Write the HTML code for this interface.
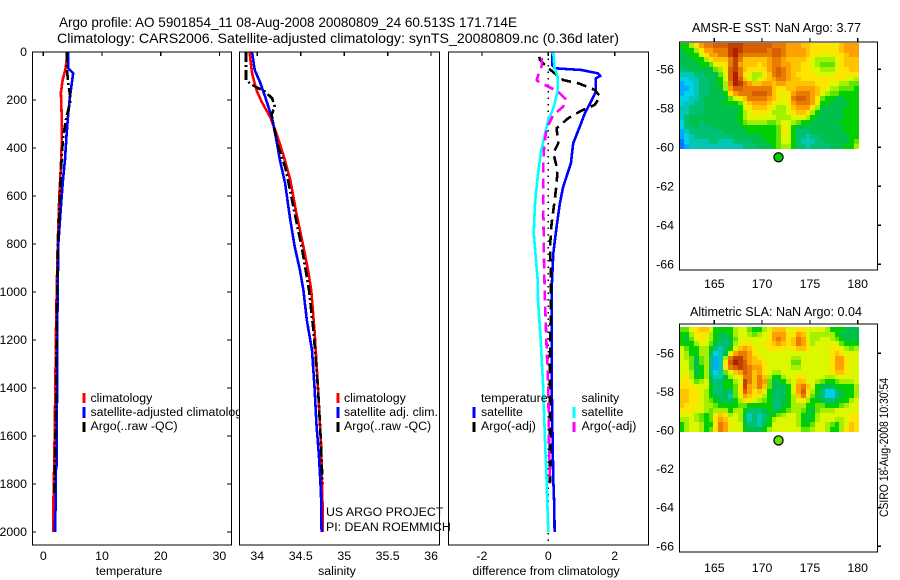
<!DOCTYPE html>
<html lang="en">
<head>
<meta charset="utf-8">
<title>Argo profile chart</title>
<style>
html,body{margin:0;padding:0;background:#fff;}
svg{display:block;}
text{font-family:"Liberation Sans",Arial,sans-serif;fill:#000;font-size:12.35px;}
.ttl{font-size:14px;}
.mttl{font-size:13px;}
.axis{fill:none;stroke:#000;stroke-width:1.3;shape-rendering:crispEdges;}
.lg{stroke-width:3;shape-rendering:crispEdges;}
</style>
</head>
<body>
<svg id="fig" width="900" height="580" viewBox="0 0 900 580" xmlns="http://www.w3.org/2000/svg">
  <defs><clipPath id="clipLeg"><rect x="0" y="380" width="240" height="60"/></clipPath></defs>
  <rect x="0" y="0" width="900" height="580" fill="#fff"/>
  <text class="ttl" x="59" y="27" textLength="458" lengthAdjust="spacingAndGlyphs">Argo profile: AO 5901854_11 08-Aug-2008 20080809_24 60.513S 171.714E</text>
  <text class="ttl" x="57" y="43" textLength="562" lengthAdjust="spacingAndGlyphs">Climatology: CARS2006. Satellite-adjusted climatology: synTS_20080809.nc (0.36d later)</text>

  <g id="marks"></g>

  <rect class="axis" x="32.5" y="52" width="199" height="493"/>
  <rect class="axis" x="239.5" y="52" width="200" height="493"/>
  <rect class="axis" x="448.5" y="52" width="200" height="493"/>
  <rect class="axis" x="679.5" y="42" width="198" height="228"/>
  <rect class="axis" x="679.5" y="324" width="198" height="228"/>

  <g id="ticks"></g>

  <text x="129" y="575" text-anchor="middle">temperature</text>
  <text x="337" y="575" text-anchor="middle">salinity</text>
  <text x="546" y="575" text-anchor="middle">difference from climatology</text>

  <g>
    <line class="lg" x1="84" y1="393" x2="84" y2="403" stroke="#f00"/>
    <text x="90.5" y="402">climatology</text>
    <line class="lg" x1="84" y1="407" x2="84" y2="418" stroke="#00f"/>
    <text x="90.5" y="416" clip-path="url(#clipLeg)">satellite-adjusted climatology</text>
    <line class="lg" x1="84" y1="422" x2="84" y2="432" stroke="#000"/>
    <text x="90.5" y="430">Argo(..raw -QC)</text>
  </g>
  <g>
    <line class="lg" x1="338" y1="393" x2="338" y2="403" stroke="#f00"/>
    <text x="344" y="402">climatology</text>
    <line class="lg" x1="338" y1="407" x2="338" y2="418" stroke="#00f"/>
    <text x="344" y="416">satellite adj. clim.</text>
    <line class="lg" x1="338" y1="422" x2="338" y2="432" stroke="#000"/>
    <text x="344" y="430">Argo(..raw -QC)</text>
  </g>
  <text x="326" y="516">US ARGO PROJECT</text>
  <text x="326" y="531">PI: DEAN ROEMMICH</text>
  <g>
    <text x="481" y="402">temperature</text>
    <line class="lg" x1="474" y1="407" x2="474" y2="418" stroke="#00f"/>
    <text x="481" y="416">satellite</text>
    <line class="lg" x1="474" y1="422" x2="474" y2="432" stroke="#000"/>
    <text x="481" y="430">Argo(-adj)</text>
    <text x="581.5" y="402">salinity</text>
    <line class="lg" x1="574" y1="407" x2="574" y2="418" stroke="#0ff"/>
    <text x="581.5" y="416">satellite</text>
    <line class="lg" x1="574" y1="422" x2="574" y2="432" stroke="#f0f"/>
    <text x="581.5" y="430">Argo(-adj)</text>
  </g>

  <text class="mttl" x="692" y="32" textLength="169" lengthAdjust="spacingAndGlyphs">AMSR-E SST: NaN Argo: 3.77</text>
  <text class="mttl" x="690" y="316" textLength="172" lengthAdjust="spacingAndGlyphs">Altimetric SLA: NaN Argo: 0.04</text>
  <text transform="translate(888,517) rotate(-90)" textLength="139" lengthAdjust="spacingAndGlyphs">CSIRO 18-Aug-2008 10:30:54</text>
</svg>

<script>
// ---------- profile data ----------
const tempClimDepth = [0,74,115,170,268,380,476,600,800,1100,1400,1700,1900,2000];
const tempClimValue = [4.2,3.75,3.3,3.0,3.13,3.13,3.0,2.73,2.45,2.2,2.05,1.88,1.7,1.7];
const tempSatDepth = [0,68,88,185,254,337,448,518,600,800,1100,1400,1500,1720,1750,1900,1950,2000];
const tempSatValue = [4.26,4.26,5.1,4.55,4.26,3.98,3.7,3.41,3.13,2.55,2.4,2.4,2.28,2.28,2.1,2.1,2.0,2.0];
const tempArgoDepth = [0,70,130,200,280,350,400,500,600,800,1100,1500,1700,1850];
const tempArgoValue = [4.0,4.0,4.26,4.67,3.87,3.41,3.24,3.0,2.85,2.5,2.3,2.16,2.0,1.88];

const salClimDepth = [0,89,158,207,272,339,429,533,672,811,922,992,1172,1408,1631,1880,2000];
const salClimValue = [33.91,33.94,33.99,34.05,34.15,34.22,34.3,34.38,34.45,34.53,34.59,34.62,34.66,34.7,34.733,34.75,34.75];
const salSatDepth = [0,75,124,186,276,367,450,547,700,811,908,992,1117,1242,1408,1547,1686,1839,2000];
const salSatValue = [33.94,33.97,34.03,34.09,34.17,34.22,34.26,34.32,34.38,34.43,34.49,34.53,34.57,34.63,34.66,34.68,34.71,34.733,34.74];
const salArgoDepth = [0,117,137,165,193,228,262,318,394,478,547,672,811,936,992,1158,1408,1631,1797];
const salArgoValue = [33.87,33.87,33.94,34.09,34.17,34.2,34.165,34.195,34.24,34.32,34.36,34.43,34.51,34.57,34.595,34.645,34.7,34.733,34.75];

const diffTempSatDepth = [0,54,68,75,89,100,110,165,200,256,311,380,464,498,561,630,728,839,992,1339,1547,1783,1894,2000];
const diffTempSatValue = [0.13,0.12,0.2,1.0,1.5,1.56,1.43,1.43,1.31,1.1,0.95,0.75,0.68,0.6,0.45,0.35,0.25,0.15,0.1,0.1,0.12,0.15,0.18,0.19];
const diffTempArgoDepth = [20,33,68,89,117,130,158,186,220,244,276,318,380,422,492,561,630,714,811,922,1019,1269,1478,1797];
const diffTempArgoValue = [-0.27,-0.25,0,0.2,0.45,0.9,1.4,1.56,1.4,1.0,0.6,0.25,0.3,0.15,0.28,0.24,0.18,0.1,0.05,0.08,0.08,0.05,0.05,0.05];
const diffSalSatDepth = [0,61,103,165,235,283,353,422,533,630,755,853,950,1033,1200,1408,1617,1783,2000];
const diffSalSatValue = [0.15,0.18,0.28,0.28,0.15,0,-0.12,-0.23,-0.33,-0.4,-0.44,-0.38,-0.32,-0.31,-0.23,-0.15,-0.1,-0.05,0];
const diffSalArgoDepth = [26,58,82,117,128,144,165,197,228,262,318,387,450,617,811,922,1033,1228,1408,1617,1797];
const diffSalArgoValue = [-0.2,-0.2,-0.27,-0.35,-0.26,0,0.3,0.52,0.45,0.15,-0.05,-0.12,-0.15,-0.15,-0.14,-0.12,-0.1,-0.05,0,0.02,0.05];
const zeroLineValue = [0,0];
const zeroLineDepth = [0,2054];

// ---------- tick labels ----------
const depthTicks = [0,200,400,600,800,1000,1200,1400,1600,1800,2000];
const tempTicks = [0,10,20,30];
const salTicks = [34,34.5,35,35.5,36];
const diffTicks = [-2,0,2];
const lonTicks = [165,170,175,180];
const latTicks = [-56,-58,-60,-62,-64,-66];

// ---------- map data (colour level per cell; rows north to south) ----------
const argoLon = 171.714;
const argoLat = -60.513;
const sstArgoLevel = 5.6;
const slaArgoLevel = 7;
const sstGrid = [
[6,6,8,10,12,13,13,14,14,14,15,15,15,14,14,14,14,14,14,13,13,13,12,12,12,11,11,10,10,10,10,10,10,11,12,12,12],
[5,6,6,8,10,12,12,13,13,13,15,16,15,14,14,14,14,14,13,14,14,13,12,12,12,12,11,10,10,10,10,10,10,11,12,12,12],
[5,5,6,6,9,10,12,12,13,13,15,16,14,13,13,13,13,13,13,14,14,13,12,12,12,12,11,10,10,9,9,9,10,10,11,12,12],
[5,5,5,6,6,8,10,11,11,11,13,15,13,11,11,11,11,11,12,13,13,12,11,11,11,11,10,9,8,8,8,8,9,10,11,11,11],
[5,5,5,5,6,6,7,9,10,10,13,15,12,11,11,11,10,11,12,13,13,12,12,11,11,10,10,9,8,7,7,7,9,10,11,11,11],
[4,4,5,5,5,5,5,7,8,10,14,15,13,11,10,10,10,10,12,13,14,13,12,11,11,10,10,9,9,8,8,8,9,10,10,11,11],
[3,3,3,4,4,5,5,5,7,9,14,16,13,10,9,8,8,10,11,13,14,13,12,11,10,10,10,10,9,9,9,9,10,10,10,10,10],
[2,2,3,3,4,4,5,5,6,9,14,16,14,11,9,8,9,10,11,12,13,13,12,11,11,10,10,10,10,10,10,10,10,10,9,9,8],
[1,2,2,3,4,4,5,5,6,8,13,16,15,13,12,11,11,12,12,11,12,12,11,11,11,11,11,11,10,10,10,9,9,8,8,7,7],
[1,1,2,3,4,4,5,5,5,8,12,14,14,13,13,13,13,13,13,11,10,10,11,11,12,12,12,12,11,10,9,8,8,7,7,7,6],
[1,2,2,3,4,4,5,5,5,6,10,12,13,13,13,14,14,14,13,11,10,9,10,12,13,13,13,12,11,9,8,7,7,6,6,6,6],
[2,2,3,3,4,5,5,5,5,5,7,9,10,11,13,13,13,13,12,11,10,9,10,13,14,14,13,12,10,7,6,6,5,5,6,6,6],
[2,3,3,4,4,5,5,5,5,6,6,6,7,10,11,12,12,12,11,10,9,9,10,12,13,13,13,12,9,6,6,5,5,5,5,6,6],
[3,3,4,4,4,5,5,5,5,5,5,5,6,9,10,11,11,11,10,9,8,8,9,11,12,12,12,10,8,5,5,5,5,5,6,6,6],
[3,3,4,4,4,5,5,5,5,5,5,5,6,8,9,10,10,10,9,8,8,8,9,10,11,11,10,8,6,5,5,5,5,5,6,6,6],
[3,4,5,5,5,5,5,5,5,5,5,5,6,8,9,9,9,9,9,9,8,8,8,9,9,9,8,6,5,5,5,5,5,5,6,6,6],
[2,4,5,5,4,5,5,5,5,5,5,5,6,7,8,8,8,8,7,7,8,9,9,8,7,6,6,5,5,5,5,5,5,6,6,6,6],
[2,4,4,5,4,4,4,5,5,5,5,5,5,6,6,6,6,6,6,6,7,10,9,6,5,5,5,5,5,5,5,5,5,5,6,6,6],
[1,3,4,4,4,4,4,4,4,5,5,5,5,5,6,6,6,6,6,6,7,10,9,6,4,4,4,5,5,5,5,5,5,5,6,6,6],
[1,2,3,4,4,4,4,4,4,4,4,5,5,5,5,5,5,6,6,6,7,9,9,6,4,4,3,4,4,5,5,5,5,5,5,6,6],
[0,2,3,3,3,3,4,4,3,3,3,4,4,4,4,5,5,5,6,6,7,9,9,6,4,3,3,3,4,4,5,5,5,5,5,6,7],
[0,1,3,3,3,3,3,3,3,3,3,3,3,4,4,4,5,5,5,6,7,8,8,6,4,4,3,4,4,4,4,5,5,5,6,6,8]
];
const slaGrid = [
[7,7,9,10,11,11,9,6,6,6,6,8,9,9,7,6,6,8,9,11,11,11,9,9,10,10,9,9,9,9,8,6,6,6,5,5,5],
[6,6,8,10,10,10,8,6,5,5,6,8,9,9,8,7,8,9,10,12,12,12,10,10,12,11,9,8,8,8,8,8,6,5,5,5,5],
[6,5,7,9,10,9,8,6,5,4,5,7,9,9,9,9,9,9,10,12,13,12,10,11,13,12,9,8,8,9,9,8,7,6,5,5,5],
[6,6,6,8,9,9,7,5,4,4,5,8,9,10,10,9,9,10,10,11,12,11,10,11,13,12,10,8,9,9,9,9,9,7,6,6,6],
[9,7,6,6,8,8,6,4,3,4,6,9,11,12,11,10,9,9,10,10,10,10,9,10,11,11,10,9,9,9,9,10,10,9,8,7,8],
[9,8,6,6,8,8,5,2,3,5,9,12,13,13,12,10,9,9,9,9,9,9,9,9,9,9,9,9,9,9,9,10,11,10,9,9,9],
[9,8,7,5,7,8,4,1,3,8,13,15,15,13,12,11,10,9,9,9,9,9,9,8,8,9,9,9,9,9,9,10,12,12,10,9,9],
[9,9,7,5,7,8,4,1,3,10,14,16,15,14,12,11,11,10,9,9,9,9,9,7,7,9,9,9,9,9,9,10,12,12,10,9,9],
[9,9,7,5,6,8,4,1,3,10,13,14,15,14,13,12,12,10,9,9,9,9,9,8,8,9,9,9,9,9,9,10,12,12,10,9,9],
[9,9,8,5,6,8,4,2,3,7,9,11,12,14,13,11,12,10,9,8,8,9,9,9,9,9,9,9,9,9,9,10,11,11,10,9,9],
[9,10,8,6,6,8,5,3,3,5,8,9,10,13,13,11,13,11,8,6,6,8,9,9,10,10,9,9,9,9,8,8,9,9,9,9,9],
[10,10,9,7,8,9,5,4,4,6,6,8,9,15,13,11,13,12,7,5,5,6,8,9,11,11,9,9,8,7,6,6,7,8,8,8,9],
[10,10,10,9,9,9,6,4,4,6,6,7,10,15,12,11,13,11,7,5,5,5,6,9,12,13,11,9,6,5,5,5,6,6,6,6,8],
[11,11,10,10,9,8,6,4,4,5,4,7,10,14,12,10,11,9,6,5,4,4,6,9,12,14,10,8,6,4,2,2,4,5,6,6,8],
[11,11,10,10,9,8,6,5,4,5,3,7,9,12,11,10,10,8,6,5,4,5,6,8,11,13,10,7,5,4,2,2,4,5,6,6,8],
[11,11,10,10,9,8,7,6,5,5,4,6,8,10,10,9,8,7,6,4,4,5,6,8,9,10,8,6,6,5,4,4,5,6,6,8,9],
[11,10,10,10,9,8,8,7,6,6,6,6,7,7,6,6,6,6,6,4,4,5,6,8,8,8,6,6,7,7,6,6,6,7,8,9,9],
[10,10,10,9,9,8,7,8,8,8,6,8,8,6,4,4,4,5,6,5,5,6,7,8,8,7,6,5,7,8,8,8,9,9,9,9,9],
[9,9,9,8,7,6,7,10,11,10,8,9,8,5,3,4,3,4,5,6,7,8,9,9,8,6,5,6,8,9,9,9,9,9,9,10,10],
[8,8,9,8,7,6,7,10,12,11,9,9,8,5,3,4,3,4,6,8,9,9,9,9,8,6,5,6,8,9,9,9,8,8,9,10,10],
[6,8,9,9,8,6,6,10,13,12,10,9,9,5,4,4,3,5,6,9,9,9,9,9,8,6,6,7,9,9,8,7,6,8,9,11,10],
[6,8,9,9,8,6,7,10,13,12,9,9,9,6,5,5,5,6,8,9,9,9,9,9,9,7,7,8,9,9,8,6,6,8,10,11,10]
];
const levelColours = ['#0078ff','#00aaff','#00d0e8','#00c8b4','#00c074','#00c04c','#00d000','#60e400','#a4f000','#dcf800','#ffe400','#ffc400','#ffa000','#e87c00','#d86000','#c04000','#b02000'];

// ---------- axis functions ----------
const NS = 'http://www.w3.org/2000/svg';
const marks = document.getElementById('marks');
const ticks = document.getElementById('ticks');
function depthY(d){ return 52 + 0.24 * d; }
function tempX(v){ return 43.3 + 5.87 * v; }
function salX(v){ return 257.3 + 86.9 * (v - 34); }
function diffX(v){ return 548.3 + 33.2 * v; }
function lonX(v){ return 714.3 + 9.56 * (v - 165); }
function sstLatY(v){ return 69.3 + 19.5 * (-56 - v); }
function slaLatY(v){ return 353.3 + 19.3 * (-56 - v); }
const gridLonStart = 161.36;
const gridLonStep = 0.507;
const gridLatStart = -54.65;
const gridLatStep = 0.246;

function el(tag, parent){
  const n = document.createElementNS(NS, tag);
  parent.appendChild(n);
  return n;
}
function drawLine(xf, values, depths, colour, width, dash){
  const p = el('polyline', marks);
  p.setAttribute('points', values.map(function(v,i){ return xf(v).toFixed(1)+','+depthY(depths[i]).toFixed(1); }).join(' '));
  p.setAttribute('fill', 'none');
  p.setAttribute('stroke', colour);
  p.setAttribute('stroke-width', width);
  p.setAttribute('shape-rendering', 'crispEdges');
  if (dash) p.setAttribute('stroke-dasharray', dash);
  return p;
}
function tickLine(x1,y1,x2,y2){
  const l = el('line', ticks);
  l.setAttribute('x1', x1); l.setAttribute('y1', y1);
  l.setAttribute('x2', x2); l.setAttribute('y2', y2);
  l.setAttribute('stroke', '#000');
  l.setAttribute('stroke-width', '1.2');
  l.setAttribute('shape-rendering', 'crispEdges');
  
  
}
function tickText(str,x,y,anchor){
  const t = el('text', ticks);
  t.setAttribute('x', x); t.setAttribute('y', y);
  t.setAttribute('text-anchor', anchor);
  t.textContent = str;
  
  
}
function drawGrid(grid, latY, name){
  grid.forEach(function(row, r){
    const lat0 = gridLatStart - r * gridLatStep;
    const y0 = Math.round(latY(lat0));
    const y1 = Math.round(latY(lat0 - gridLatStep));
    row.forEach(function(level, c){
      const lon0 = gridLonStart + c * gridLonStep;
      const x0 = Math.round(lonX(lon0));
      const x1 = Math.round(lonX(lon0 + gridLonStep));
      const cell = el('rect', marks);
      cell.setAttribute('x', x0);
      cell.setAttribute('y', y0);
      cell.setAttribute('width', x1 - x0);
      cell.setAttribute('height', y1 - y0);
      cell.setAttribute('fill', levelColours[Math.max(0, Math.min(16, Math.round(level)))]);
      cell.setAttribute('shape-rendering', 'crispEdges');
      
      
    });
  });
}
function drawMarker(latY, level, name){
  const ring = el('circle', marks);
  ring.setAttribute('cx', lonX(argoLon));
  ring.setAttribute('cy', latY(argoLat));
  ring.setAttribute('r', 4.6);
  ring.setAttribute('fill', levelColours[Math.round(level)]);
  ring.setAttribute('stroke', '#000');
  ring.setAttribute('stroke-width', 1.2);
  
  
}

// ---------- profile series ----------
let s;
s = drawLine(tempX, tempClimValue, tempClimDepth, '#f00', 2.6);


s = drawLine(tempX, tempSatValue, tempSatDepth, '#00f', 2.6);


s = drawLine(tempX, tempArgoValue, tempArgoDepth, '#000', 2.6, '10 3 2 3');



s = drawLine(salX, salClimValue, salClimDepth, '#f00', 2.6);


s = drawLine(salX, salSatValue, salSatDepth, '#00f', 2.6);


s = drawLine(salX, salArgoValue, salArgoDepth, '#000', 2.6, '10 3 2 3');



s = drawLine(diffX, zeroLineValue, zeroLineDepth, '#000', 1.2, '1.5 5');


s = drawLine(diffX, diffTempSatValue, diffTempSatDepth, '#00f', 2.6);


s = drawLine(diffX, diffTempArgoValue, diffTempArgoDepth, '#000', 2.6, '10 6');


s = drawLine(diffX, diffSalSatValue, diffSalSatDepth, '#0ff', 2.6);


s = drawLine(diffX, diffSalArgoValue, diffSalArgoDepth, '#f0f', 2.6, '10 6');



// ---------- maps ----------
drawGrid(sstGrid, sstLatY, 'sst-map-cell');
drawGrid(slaGrid, slaLatY, 'sla-map-cell');
drawMarker(sstLatY, sstArgoLevel, 'sst-argo-marker');
drawMarker(slaLatY, slaArgoLevel, 'sla-argo-marker');

// ---------- ticks ----------
depthTicks.forEach(function(d){
  const y = depthY(d);
  tickLine(32.5, y, 36, y);
  tickLine(227, y, 231.5, y);
  tickText(String(d), 27, y + 4, 'end');
});
tempTicks.forEach(function(v){
  const x = tempX(v);
  tickLine(x, 52, x, 56);
  tickText(String(v), x, 560, 'middle');
});
salTicks.forEach(function(v){
  const x = salX(v);
  tickLine(x, 52, x, 56);
  tickText(String(v), x, 560, 'middle');
});
diffTicks.forEach(function(v){
  const x = diffX(v);
  tickLine(x, 52, x, 56);
  tickText(String(v), x, 560, 'middle');
});
lonTicks.forEach(function(v){
  const x = lonX(v);
  tickLine(x, 38, x, 42);
  tickLine(x, 320, x, 324);
  tickText(String(v), x, 288, 'middle');
  tickText(String(v), x, 572, 'middle');
});
latTicks.forEach(function(v){
  tickLine(877.5, sstLatY(v), 881, sstLatY(v));
  tickLine(877.5, slaLatY(v), 881, slaLatY(v));
  tickText(String(v), 674, sstLatY(v) + 4, 'end');
  tickText(String(v), 674, slaLatY(v) + 4, 'end');
});
</script>
</body>
</html>
